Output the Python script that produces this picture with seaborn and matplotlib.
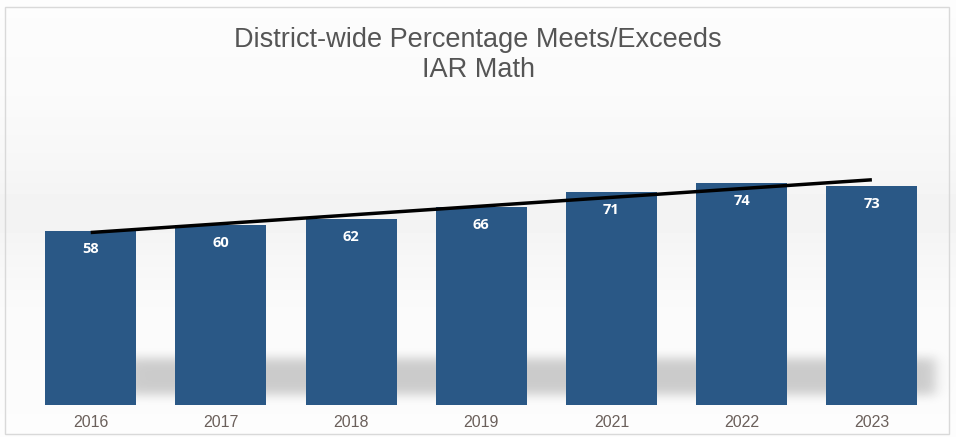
import numpy as np
import pandas as pd
import matplotlib
matplotlib.use("Agg")
import matplotlib.pyplot as plt
import seaborn as sns
from matplotlib.patches import Rectangle

years = ["2016", "2017", "2018", "2019", "2021", "2022", "2023"]
values = [58, 60, 62, 66, 71, 74, 73]
title_lines = ["District-wide Percentage Meets/Exceeds", "IAR Math"]

sns.set_theme(style="white")
plt.rcParams['font.family'] = ['Liberation Sans', 'DejaVu Sans']

W, H = 956, 437
fig = plt.figure(figsize=(W / 100, H / 100), dpi=100)
fig.patch.set_facecolor("white")

# background: soft vertical gradient plus a blurred shadow band behind the bar bases
bg = fig.add_axes([0, 0, 1, 1], zorder=0)
yy = np.arange(H)[:, None]
xx = np.arange(W)[None, :]
ys = np.array([0, 100, 170, 215, 240, 300, 437])
gs = np.array([0.99, 0.98, 0.965, 0.95, 0.96, 0.98, 0.99])
base = np.interp(np.arange(H), ys, gs)[:, None] * np.ones((1, W))
vprof = np.exp(-((yy - 376) / 20.0) ** 4)
hprof = 1 / (1 + np.exp(-(xx - 125) / 4.0)) * 1 / (1 + np.exp((xx - 935) / 4.0))
img = base - 0.19 * vprof * hprof
bg.imshow(img, cmap="gray", vmin=0, vmax=1, aspect="auto", extent=[0, W, H, 0],
          interpolation="bilinear")
bg.add_patch(Rectangle((5, 7), 944, 427, fill=False, edgecolor="#d9d9d9", lw=1))
bg.set_xlim(0, W); bg.set_ylim(H, 0)
bg.axis("off")

df = pd.DataFrame({"year": years, "value": values})
ax = fig.add_axes([10 / W, (H - 405) / H, 940 / W, 300 / H], zorder=1)
ax.patch.set_alpha(0)
sns.barplot(data=df, x="year", y="value", order=years, color="#2a5886",
            width=0.7, saturation=1, linewidth=0, edgecolor="none", ax=ax, zorder=3)
ax.set_xlim(-0.62, 6.60)
ax.set_ylim(0, 100)

# value labels
for i, v in enumerate(values):
    ax.text(i, v - 6, str(v), ha="center", va="center", color="white",
            fontsize=10.5, fontweight="bold", family=["Open Sans", "DejaVu Sans"], zorder=5)

# linear trend line
xi = np.arange(len(values))
m, b = np.polyfit(xi, values, 1)
ax.plot(xi, m * xi + b, color="black", lw=2.5, zorder=4, solid_capstyle="butt")

ax.set_xlabel("")
ax.set_ylabel("")
ax.set_yticks([])
ax.tick_params(axis="x", length=0, pad=7, labelsize=11.5, labelcolor="#6b605b")
for s in ax.spines.values():
    s.set_visible(False)

tfam = ["Liberation Sans Narrow", "Liberation Sans", "DejaVu Sans"]
fig.text(0.5, 1 - 40 / H, title_lines[0], ha="center", va="center", fontsize=19.5,
         color="#555555", family=tfam)
fig.text(0.5, 1 - 70 / H, title_lines[1], ha="center", va="center", fontsize=19.5,
         color="#555555", family=tfam)

fig.savefig("out.png", dpi=100)
